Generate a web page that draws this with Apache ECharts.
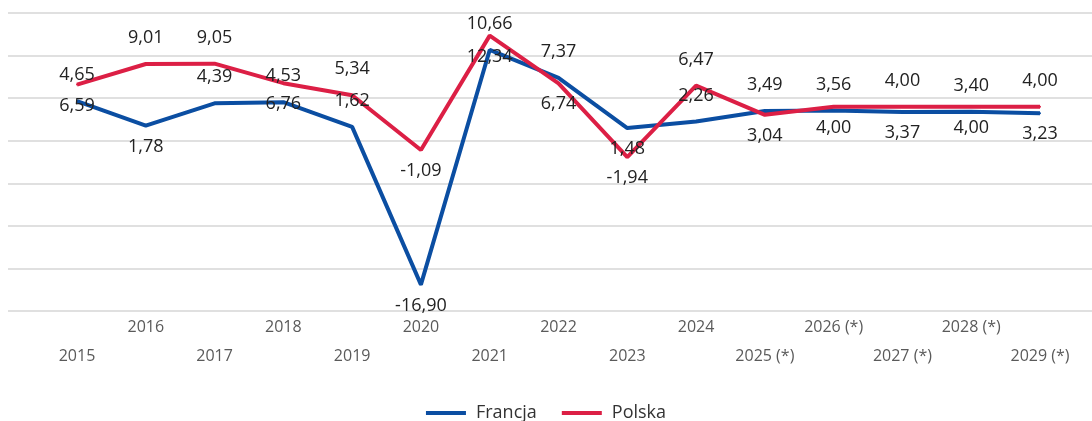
<!DOCTYPE html>
<html>
<head>
<meta charset="utf-8">
<script src="https://cdn.jsdelivr.net/npm/echarts@6/dist/echarts.min.js"></script>
<style>
  html, body { margin: 0; padding: 0; background: #fff; }
  #wykres { width: 1092px; height: 421px; }
</style>
</head>
<body>
<div id="wykres"></div>
<script>
var lata = ['2015', '2016', '2017', '2018', '2019', '2020', '2021', '2022', '2023', '2024',
            '2025 (*)', '2026 (*)', '2027 (*)', '2028 (*)', '2029 (*)'];
var francja = [4.65, 1.78, 4.39, 4.53, 1.62, -16.90, 10.66, 7.37, 1.48, 2.26, 3.49, 3.56, 3.37, 3.40, 3.23];
var polska = [6.59, 9.01, 9.05, 6.76, 5.34, -1.09, 12.34, 6.74, -1.94, 6.47, 3.04, 4.00, 4.00, 4.00, 4.00];

// gdzie stoi etykieta (tak jak na oryginale)
var francjaEtykiety = ['top', 'bottom', 'top', 'top', 'top', 'bottom', 'top', 'top', 'bottom', 'top', 'top', 'top', 'bottom', 'top', 'bottom'];
var polskaEtykiety = ['bottom', 'top', 'top', 'bottom', 'top', 'bottom', 'bottom', 'bottom', 'bottom', 'top', 'bottom', 'bottom', 'top', 'bottom', 'top'];

var font = "'Open Sans', sans-serif";

function punkty(wartosci, pozycje) {
    return wartosci.map(function (v, i) {
        var top = pozycje[i] === 'top';
        return {
            value: v,
            label: { position: pozycje[i], distance: top ? 16 : 11 }
        };
    });
}

function seria(nazwa, kolor, wartosci, pozycje) {
    return {
        name: nazwa,
        type: 'line',
        xAxisIndex: 1,
        yAxisIndex: 1,
        data: punkty(wartosci, pozycje),
        symbol: 'circle',
        symbolSize: 2,
        showSymbol: true,
        itemStyle: { color: kolor },
        lineStyle: { color: kolor, width: 4 },
        label: {
            show: true,
            fontFamily: font,
            fontSize: 18,
            color: '#222',
            formatter: function (p) { return p.value.toFixed(2).replace('.', ','); }
        }
    };
}

var myChart = echarts.init(document.getElementById('wykres'));
var option = {
    animation: false,
    textStyle: { fontFamily: font },
    grid: [
        { left: 8, right: 0, top: 13, bottom: 110 },
        { left: 77, right: 52, top: 13, bottom: 110 }
    ],
    xAxis: [
        { gridIndex: 0, type: 'category', data: lata, show: false },
        {
            gridIndex: 1,
            type: 'category',
            data: lata,
            boundaryGap: false,
            axisLine: { show: false },
            axisTick: { show: false },
            splitLine: { show: false },
            axisLabel: {
                interval: 0,
                margin: 2,
                lineHeight: 29,
                fontFamily: font,
                fontSize: 16,
                color: '#5a5a5a',
                formatter: function (v, i) { return i % 2 === 1 ? v : '\n' + v; }
            }
        }
    ],
    yAxis: [
        {
            gridIndex: 0, type: 'value', min: -20, max: 15, interval: 5,
            axisLabel: { show: false }, axisLine: { show: false }, axisTick: { show: false },
            splitLine: { lineStyle: { color: '#e0e0e0', width: 2 } }
        },
        {
            gridIndex: 1, type: 'value', min: -20, max: 15, interval: 5,
            show: false, splitLine: { show: false }
        }
    ],
    legend: {
        left: 'center',
        top: 399,
        icon: 'rect',
        itemWidth: 40,
        itemHeight: 4,
        itemGap: 25,
        textStyle: { fontFamily: font, fontSize: 18, color: '#333', padding: [0, 0, 0, 5] },
        data: ['Francja', 'Polska']
    },
    series: [
        seria('Francja', '#0b4ea2', francja, francjaEtykiety),
        seria('Polska', '#dc1f45', polska, polskaEtykiety)
    ]
};
myChart.setOption(option);
window.addEventListener("resize", function () { myChart.resize(); });
</script>
</body>
</html>
